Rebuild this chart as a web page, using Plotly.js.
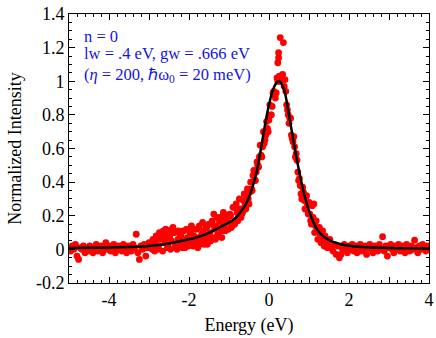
<!DOCTYPE html>
<html><head><meta charset="utf-8">
<script src="https://cdn.plot.ly/plotly-3.0.1.min.js"></script>
<style>html,body{margin:0;padding:0;background:#fff}#plot{width:436px;height:338px}</style>
</head><body><div id="plot"></div>
<script>
// measured data points (energy eV, normalized intensity)
const dataX = [
-5.00,-4.96,-4.92,-4.88,-4.84,-4.80,-4.76,-4.72,-4.68,-4.64,-4.60,-4.56,-4.52,-4.48,-4.44,-4.40,-4.36,-4.32,-4.28,-4.24,
-4.20,-4.16,-4.12,-4.08,-4.04,-4.00,-3.96,-3.92,-3.88,-3.84,-3.80,-3.76,-3.72,-3.68,-3.64,-3.60,-3.56,-3.52,-3.48,-3.44,
-3.40,-3.36,-3.32,-3.28,-3.24,-3.20,-3.16,-3.12,-3.08,-3.04,-3.00,
-2.96,-2.92,-2.88,-2.84,-2.80,-2.76,-2.72,-2.68,-2.64,-2.60,-2.56,-2.52,-2.48,-2.44,-2.40,-2.36,-2.32,-2.28,-2.24,-2.20,
-2.16,-2.12,-2.08,-2.04,-2.00,
-1.96,-1.92,-1.88,-1.84,-1.80,-1.76,-1.72,-1.68,-1.64,-1.60,-1.56,-1.52,-1.48,-1.44,-1.40,-1.36,-1.32,-1.28,-1.24,-1.20,
-1.16,-1.12,-1.08,-1.04,-1.00,-0.96,-0.92,-0.88,-0.84,-0.80,-0.76,-0.72,-0.68,-0.64,-0.60,
-0.56,-0.52,-0.48,-0.44,-0.40,-0.36,-0.32,-0.28,-0.24,-0.20,-0.16,-0.12,-0.08,-0.04,0.00,0.04,0.08,0.10,0.12,0.16,
0.20,0.22,0.24,0.24,0.26,0.28,0.30,0.32,0.34,0.36,0.40,0.44,0.46,0.48,0.52,0.56,0.60,
0.64,0.68,0.72,0.76,0.80,0.84,0.88,0.92,0.96,1.00,1.04,1.08,1.12,1.16,1.20,1.24,1.28,1.32,1.36,1.40,
1.44,1.48,1.52,1.56,1.60,1.64,1.68,1.72,1.76,1.80,1.84,1.88,1.92,1.96,2.00,
2.04,2.08,2.12,2.16,2.20,2.24,2.28,2.32,2.36,2.40,2.44,2.48,2.52,2.56,2.60,2.64,2.68,2.72,2.76,2.80,
2.84,2.88,2.92,2.96,3.00,3.04,3.08,3.12,3.16,3.20,3.24,3.28,3.32,3.36,3.40,3.44,3.48,3.52,3.56,3.60,
3.64,3.68,3.72,3.76,3.80,3.84,3.88,3.92,3.96,4.00];
const dataY = [
0.01,-0.01,0.02,0.00,0.03,-0.04,-0.06,0.01,0.00,0.02,-0.02,0.01,-0.01,0.02,0.00,-0.02,0.01,0.03,-0.01,0.00,
0.02,-0.02,0.01,0.04,0.00,0.02,-0.01,0.01,0.03,-0.02,0.00,0.02,0.01,-0.01,0.03,0.00,-0.02,0.02,0.01,-0.01,
0.03,0.01,0.09,-0.02,-0.06,0.02,0.00,0.03,-0.04,0.01,0.04,
0.02,0.00,0.03,0.05,0.01,0.02,0.06,0.09,0.11,0.04,0.07,0.02,0.08,0.05,0.13,0.10,0.03,0.06,0.04,0.08,
0.01,0.05,0.03,0.07,0.05,
0.10,0.04,0.08,0.06,0.12,0.07,0.03,0.09,0.11,0.06,0.13,0.08,0.10,0.15,0.07,0.12,0.14,0.09,0.17,0.11,
0.15,0.13,0.18,0.12,0.16,0.20,0.14,0.25,0.17,0.22,0.19,0.24,0.21,0.29,0.26,
0.32,0.30,0.34,0.36,0.44,0.41,0.46,0.50,0.55,0.56,0.61,0.63,0.68,0.72,0.77,0.80,0.85,0.93,0.94,0.90,
1.02,1.11,1.17,1.14,1.00,1.26,1.01,1.03,1.04,1.23,1.01,0.86,0.83,0.80,0.78,0.68,0.64,
0.61,0.57,0.46,0.42,0.33,0.37,0.29,0.31,0.27,0.28,0.17,0.26,0.27,0.14,0.12,0.10,0.09,0.06,0.04,0.08,
0.05,0.02,0.06,0.01,-0.01,0.03,-0.03,0.02,-0.05,-0.03,0.00,0.03,0.01,-0.02,0.02,
0.00,0.03,-0.01,0.02,-0.02,0.01,0.03,-0.01,0.00,0.02,-0.03,0.01,0.03,0.00,-0.02,0.02,0.01,-0.01,0.03,0.00,
0.075,-0.01,0.02,-0.04,0.01,0.03,0.00,-0.02,0.02,0.01,0.03,-0.01,0.00,0.02,-0.02,0.03,0.01,-0.01,0.02,0.00,
0.055,0.01,-0.02,0.02,0.00,0.03,0.01,-0.01,0.02,0.01];
// second interleaved sweep of the measured points
const dataX2 = [
-2.90,-2.86,-2.82,-2.78,-2.74,-2.70,-2.66,-2.62,-2.58,-2.54,-2.50,-2.46,-2.42,-2.38,-2.34,-2.30,-2.26,-2.22,-2.18,-2.14,
-2.10,-2.06,-2.02,
-1.98,-1.94,-1.90,-1.86,-1.82,-1.78,-1.74,-1.70,-1.66,-1.62,-1.58,-1.54,-1.50,-1.46,-1.42,-1.38,-1.34,-1.30,-1.26,-1.22,
-1.18,-1.14,-1.10,-1.06,-1.02,-0.98,-0.94,-0.90,-0.86,-0.82,-0.78,-0.74,-0.70,-0.66,-0.62,
-0.58,-0.54,-0.50,-0.46,-0.42,-0.38,-0.34,-0.30,-0.26,-0.22,-0.18,-0.14,-0.10,-0.06,-0.02,0.02,0.06,0.14,0.18,0.22,
0.26,0.30,0.34,0.38,0.42,0.50,0.54,0.58,0.62,0.66,
0.70,0.74,0.78,0.82,0.86,0.90,0.94,0.98,1.02,1.06,1.10,1.14,1.18,1.22,1.26,1.30,1.34,1.38,1.42,1.46,1.50];
const dataY2 = [
0.06,-0.01,0.08,0.00,0.10,0.07,-0.01,0.09,0.12,0.01,0.09,0.00,0.12,0.10,0.02,0.00,0.11,0.08,0.015,0.11,
0.01,0.12,0.02,
0.10,0.14,0.02,0.12,0.04,0.01,0.14,0.05,0.16,0.03,0.14,0.03,0.15,0.05,0.17,0.21,0.06,0.19,0.08,0.19,
0.07,0.22,0.11,0.20,0.12,0.21,0.13,0.25,0.15,0.27,0.17,0.30,0.19,0.22,0.33,
0.24,0.36,0.27,0.40,0.35,0.47,0.41,0.52,0.49,0.62,0.55,0.70,0.65,0.76,0.70,0.86,0.80,0.92,0.93,1.00,
1.03,1.02,1.01,0.97,0.94,0.75,0.78,0.66,0.67,0.55,
0.53,0.41,0.38,0.30,0.34,0.24,0.32,0.21,0.21,0.15,0.19,0.10,0.17,0.06,0.13,0.04,0.11,0.02,0.06,0.01,0.05];
// fitted line shape
const fitX = [-5.0,-4.5,-4.0,-3.5,-3.0,-2.5,-2.2,-2.0,-1.8,-1.6,-1.4,-1.2,-1.0,-0.9,-0.8,-0.7,-0.6,-0.5,-0.4,-0.3,
-0.2,-0.1,0.0,0.1,0.2,0.25,0.3,0.4,0.5,0.6,0.7,0.8,0.9,1.0,1.1,1.2,1.3,1.4,1.6,1.8,2.0,2.5,3.0,3.5,4.0];
const fitY = [0.008,0.009,0.011,0.014,0.020,0.035,0.050,0.060,0.072,0.088,0.110,0.135,0.160,0.175,0.195,0.225,0.26,0.31,0.38,0.47,
0.60,0.74,0.86,0.95,0.995,1.0,0.99,0.93,0.80,0.66,0.53,0.41,0.31,0.23,0.165,0.12,0.09,0.07,0.045,0.03,0.022,0.012,0.008,0.006,0.005];
const xTickVals = [-5,-4,-3,-2,-1,0,1,2,3,4];
const xTickText = ['','-4','','-2','','0','','2','','4'];
const yTickVals = [-0.2,0,0.2,0.4,0.6,0.8,1,1.2,1.4];
const yTickText = ['-0.2','0','0.2','0.4','0.6','0.8','1','1.2','1.4'];
const noteLines = ['n = 0','lw = .4 eV, gw = .666 eV','(<i>η</i> = 200, ℏω<sub>0</sub> = 20 meV)'];

const font = 'Liberation Serif, Times New Roman, serif';
const blue = 'rgb(20,20,225)';
const traces = [
  {x: dataX.concat(dataX2), y: dataY.concat(dataY2), type:'scatter', mode:'markers', marker:{color:'#ff0000', size:6.8}, hoverinfo:'skip'},
  {x: fitX, y: fitY, type:'scatter', mode:'lines', line:{color:'#000', width:2.5, shape:'spline', smoothing:0.6}, hoverinfo:'skip'}
];
const axCommon = {
  showline:true, linecolor:'#000', linewidth:1, mirror:'allticks', ticks:'inside', ticklen:6, tickwidth:1, tickcolor:'#000',
  showgrid:false, zeroline:false, tickfont:{family:font, size:18, color:'#000'}, tickmode:'array'
};
const layout = {
  width:436, height:338, margin:{l:69, r:7, t:14, b:55},
  paper_bgcolor:'#fff', plot_bgcolor:'#fff', showlegend:false,
  xaxis: Object.assign({}, axCommon, {range:[-5,4], tickvals:xTickVals, ticktext:xTickText,
    minor:{dtick:0.2, ticklen:3, ticks:'inside', tickcolor:'#000'},
    title:{text:'Energy (eV)', font:{family:font, size:18, color:'#000'}, standoff:9}}),
  yaxis: Object.assign({}, axCommon, {range:[-0.2,1.4], tickvals:yTickVals, ticktext:yTickText,
    minor:{dtick:0.05, ticklen:3, ticks:'inside', tickcolor:'#000'},
    title:{text:'Normalized Intensity', font:{family:font, size:18, color:'#000'}, standoff:9}}),
  annotations: noteLines.map((t,i)=>({
    text:t, xref:'paper', yref:'paper', x:0.036, y:[0.918,0.852,0.772][i], xanchor:'left', yanchor:'middle',
    showarrow:false, font:{family:font, size:16.5, color:blue}
  }))
};
Plotly.newPlot('plot', traces, layout, {staticPlot:true, displayModeBar:false});
</script></body></html>
